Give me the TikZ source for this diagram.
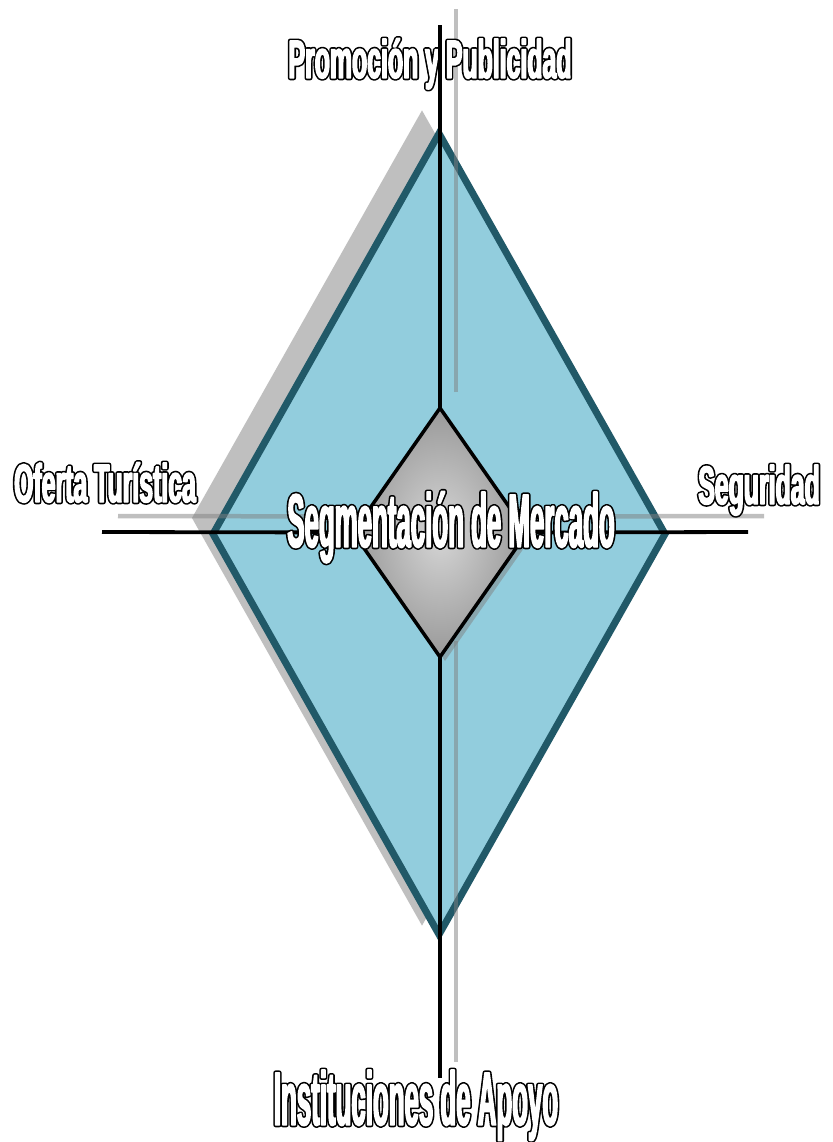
\documentclass[tikz,border=0pt]{standalone}
\usepackage{fontspec}
\usepackage{tikz}
\usetikzlibrary{shapes.geometric,shadows}
\definecolor{DiamondBlue}{RGB}{146,205,221}
\definecolor{DiamondEdge}{RGB}{33,89,104}
\definecolor{ShadowGray}{RGB}{191,191,191}
\newfontfamily\labfontw[FakeStretch=0.46,FakeBold=2.6]{Liberation Sans Bold}
\newfontfamily\labfontk[FakeStretch=0.46,FakeBold=8.5]{Liberation Sans Bold}
\newfontfamily\bigfontw[FakeStretch=0.34,FakeBold=1.8]{Liberation Sans Bold}
\newfontfamily\bigfontk[FakeStretch=0.34,FakeBold=6]{Liberation Sans Bold}
\newcommand{\smalllabel}[1]{\fontsize{54}{58}\selectfont\rlap{\color{black}\labfontk #1}{\color{white}\labfontw #1}}
\newcommand{\biglabel}[1]{\fontsize{76}{80}\selectfont\rlap{\color{black}\bigfontk #1}{\color{white}\bigfontw #1}}

\begin{document}
\begin{tikzpicture}[x=1pt, y=-1pt,
    axis/.style={line width=3.8pt},
    axshadow/.style={line width=4.5pt, draw=gray, opacity=0.5},
    lab/.style={anchor=base, inner sep=0pt, line join=round}]
\fill[white] (0,0) rectangle (832,1142);
\node[diamond, minimum width=452pt, minimum height=801pt, inner sep=0pt, outer sep=0pt,
    fill=DiamondBlue, draw=DiamondEdge, line width=7pt,
    general shadow={fill=ShadowGray, draw=ShadowGray, line width=7pt, shadow xshift=-17pt, shadow yshift=16pt}]
    (rhomb) at (439,534) {};
\node[diamond, minimum width=174pt, minimum height=249pt, inner sep=0pt, outer sep=0pt,
    draw=black, line width=3.5pt, shading=radial, inner color=black!16, outer color=black!40,
    general shadow={fill=gray, opacity=0.5, shadow xshift=5pt, shadow yshift=-4pt}]
    (core) at (440,532.5) {};
\coordinate (topend) at (440,25);
\coordinate (botend) at (440,1078);
\coordinate (leftend) at (102,532);
\coordinate (rightend) at (748,532);
\foreach \v/\e in {north/topend, south/botend, west/leftend, east/rightend}
    \draw[axshadow] ([shift={(16,-16)}]core.\v) -- ([shift={(16,-16)}]\e);
\node[lab] (promo) at (430,78) {\smalllabel{Promoción y Publicidad}};
\foreach \v/\e in {north/topend, south/botend, west/leftend, east/rightend}
    \draw[axis] (core.\v) -- (\e);
\node[lab] (oferta) at (105,502) {\smalllabel{Oferta Turística}};
\node[lab] (segur) at (759,504) {\smalllabel{Seguridad}};
\node[lab] (segm) at (451,547) {\biglabel{Segmentación de Mercado}};
\node[lab] (instit) at (416,1125) {\biglabel{Instituciones de Apoyo}};
\end{tikzpicture}
\end{document}
